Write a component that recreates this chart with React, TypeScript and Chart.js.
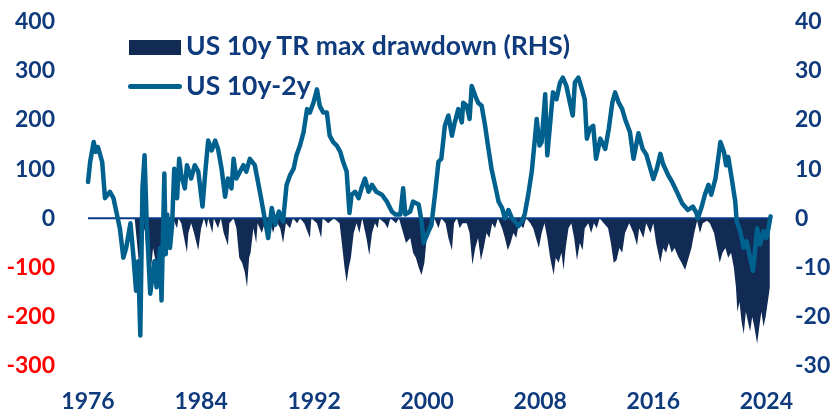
import React, { useEffect, useRef } from "react";
import { Chart, registerables } from "chart.js";

Chart.register(...registerables);

// US 10y-2y spread (bp, LHS)
const spreadYears = [
  1976.0, 1976.15, 1976.4, 1976.55, 1976.7, 1977.0, 1977.2, 1977.55, 1977.8, 1978.0,
  1978.25, 1978.5, 1978.7, 1979.0, 1979.2, 1979.4, 1979.55, 1979.7, 1979.85, 1980.0,
  1980.15, 1980.4, 1980.7, 1980.85, 1981.1, 1981.2, 1981.4, 1981.5, 1981.6, 1981.8,
  1981.95, 1982.1, 1982.3, 1982.45, 1982.6, 1982.85, 1983.0, 1983.3, 1983.55, 1983.8,
  1984.1, 1984.3, 1984.5, 1984.75, 1985.0, 1985.2, 1985.45, 1985.7, 1985.9, 1986.15,
  1986.3, 1986.5, 1986.75, 1987.0, 1987.2, 1987.45, 1987.8, 1988.2, 1988.5, 1988.75,
  1989.0, 1989.25, 1989.5, 1989.8, 1990.05, 1990.3, 1990.55, 1990.75, 1991.0, 1991.25,
  1991.5, 1991.7, 1991.95, 1992.2, 1992.4, 1992.65, 1992.9, 1993.1, 1993.35, 1993.6,
  1993.85, 1994.05, 1994.3, 1994.5, 1994.65, 1994.9, 1995.15, 1995.35, 1995.6, 1995.85,
  1996.1, 1996.4, 1996.8, 1997.15, 1997.5, 1997.75, 1998.1, 1998.3, 1998.45, 1998.8,
  1999.0, 1999.4, 1999.6, 1999.75, 2000.1, 2000.3, 2000.55, 2000.8, 2001.0, 2001.25,
  2001.5, 2001.75, 2001.95, 2002.2, 2002.45, 2002.55, 2002.8, 2003.0, 2003.15, 2003.4,
  2003.6, 2003.85, 2004.1, 2004.3, 2004.55, 2004.8, 2005.05, 2005.3, 2005.5, 2005.75,
  2006.0, 2006.2, 2006.45, 2006.7, 2006.9, 2007.15, 2007.4, 2007.6, 2007.75, 2007.95,
  2008.1, 2008.35, 2008.5, 2008.75, 2008.9, 2009.15, 2009.4, 2009.6, 2009.85, 2010.1,
  2010.3, 2010.45, 2010.7, 2010.95, 2011.15, 2011.3, 2011.5, 2011.75, 2011.95, 2012.25,
  2012.6, 2012.85, 2013.1, 2013.3, 2013.55, 2013.8, 2014.0, 2014.35, 2014.6, 2014.95,
  2015.25, 2015.5, 2015.7, 2016.0, 2016.25, 2016.5, 2016.7, 2017.05, 2017.35, 2017.7,
  2018.05, 2018.45, 2018.8, 2019.05, 2019.15, 2019.4, 2019.65, 2019.9, 2020.1, 2020.4,
  2020.75, 2021.0, 2021.15, 2021.3, 2021.55, 2021.8, 2021.9, 2022.15, 2022.4, 2022.6,
  2022.85, 2023.05, 2023.2, 2023.35, 2023.55, 2023.8, 2024.0, 2024.15, 2024.3,
];
const spreadValues = [
  74, 115, 155, 135, 145, 115, 41, 54, 41, 14,
  -20, -80, -60, -10, -73, -147, -87, -238, 61, 128,
  -6, -153, -87, -140, -60, -167, 91, -73, 8, -60,
  -13, 101, 41, 121, 88, 61, 108, 81, 108, 95,
  24, 95, 158, 138, 158, 141, 101, 44, 81, 61,
  121, 81, 95, 108, 95, 121, 108, 48, 0, -40,
  21, -13, 14, -6, 68, 88, 101, 128, 148, 175,
  222, 215, 235, 262, 228, 215, 215, 168, 155, 148,
  135, 115, 95, 11, 48, 54, 41, 61, 81, 54,
  68, 54, 48, 34, 14, 8, 8, 61, 8, 14,
  34, 28, -6, -50, -26, -13, 48, 115, 121, 188,
  209, 168, 195, 222, 195, 235, 229, 202, 269, 249,
  235, 229, 188, 148, 101, 68, 34, 21, 0, 17,
  0, -6, -16, -6, 8, 48, 95, 155, 202, 148,
  155, 252, 128, 209, 256, 242, 276, 286, 269, 235,
  209, 276, 286, 262, 242, 162, 182, 188, 121, 162,
  141, 182, 235, 256, 235, 222, 202, 175, 121, 173,
  141, 130, 110, 80, 101, 131, 110, 88, 73, 52,
  30, 17, 24, 11, 0, 21, 48, 68, 48, 81,
  155, 135, 108, 125, 81, 34, -6, -26, -60, -46,
  -80, -107, -66, -20, -53, -26, -40, -20, 4,
];

// US 10y total return max drawdown (%, RHS)
const drawdownYears = [
  1976.0, 1979.3, 1979.4, 1979.6, 1979.8, 1980.0, 1980.2, 1980.4, 1980.6, 1980.8,
  1981.0, 1981.2, 1981.4, 1981.6, 1981.8, 1982.0, 1982.3, 1982.4, 1982.6, 1982.8,
  1983.0, 1983.1, 1983.3, 1983.5, 1983.8, 1984.0, 1984.2, 1984.4, 1984.5, 1984.8,
  1984.9, 1985.2, 1985.4, 1985.6, 1985.9, 1986.0, 1986.3, 1986.5, 1986.7, 1986.9,
  1987.1, 1987.25, 1987.4, 1987.5, 1987.7, 1987.9, 1988.0, 1988.3, 1988.5, 1988.7,
  1988.9, 1989.1, 1989.3, 1989.6, 1989.8, 1990.0, 1990.3, 1990.5, 1990.8, 1991.0,
  1991.3, 1991.7, 1991.8, 1992.2, 1992.5, 1992.6, 1993.0, 1993.4, 1993.8, 1994.0,
  1994.15, 1994.3, 1994.45, 1994.6, 1994.8, 1995.0, 1995.2, 1995.4, 1995.7, 1995.9,
  1996.1, 1996.3, 1996.5, 1996.6, 1997.0, 1997.2, 1997.4, 1997.8, 1998.0, 1998.3,
  1998.5, 1998.8, 1999.0, 1999.2, 1999.4, 1999.6, 1999.8, 2000.0, 2000.2, 2000.4,
  2000.5, 2000.8, 2001.0, 2001.3, 2001.5, 2001.75, 2001.9, 2002.1, 2002.3, 2002.5,
  2002.8, 2003.0, 2003.2, 2003.4, 2003.6, 2003.8, 2004.0, 2004.2, 2004.4, 2004.6,
  2004.8, 2005.0, 2005.3, 2005.5, 2005.7, 2005.9, 2006.1, 2006.3, 2006.5, 2006.8,
  2007.0, 2007.3, 2007.5, 2007.7, 2007.9, 2008.1, 2008.3, 2008.5, 2008.7, 2008.95,
  2009.1, 2009.3, 2009.5, 2009.65, 2009.8, 2010.0, 2010.2, 2010.4, 2010.6, 2010.8,
  2011.0, 2011.15, 2011.4, 2011.6, 2011.8, 2012.0, 2012.2, 2012.5, 2012.8, 2013.0,
  2013.2, 2013.4, 2013.6, 2013.8, 2014.0, 2014.3, 2014.6, 2014.85, 2015.0, 2015.3,
  2015.5, 2015.8, 2016.0, 2016.2, 2016.5, 2016.7, 2016.9, 2017.1, 2017.3, 2017.5,
  2017.8, 2018.0, 2018.25, 2018.5, 2018.7, 2018.9, 2019.1, 2019.3, 2019.5, 2019.8,
  2020.0, 2020.3, 2020.5, 2020.7, 2020.9, 2021.1, 2021.3, 2021.5, 2021.7, 2021.85,
  2021.95, 2022.1, 2022.25, 2022.4, 2022.55, 2022.7, 2022.85, 2023.0, 2023.15, 2023.35,
  2023.5, 2023.65, 2023.8, 2023.95, 2024.1, 2024.25,
];
const drawdownValues = [
  0, 0, -3, -9, -5, -2, -8, -12, -6, -9,
  -11, -9, -3, -6, -2, 0, -2, 0, -1, -4,
  -7, -3, -1, -3, -6.5, -2, 0, -2, 0, -3,
  0, -2, 0, -3, -5.5, -1, 0, -2, -8, -9,
  -11, -14, -8, -7, -2, -5, -1, -3, -1, -4,
  -1, -3, -0.5, -2, -5, -1, -2, 0, -1, 0,
  -1, -4, 0, -1, -4, 0, -1, 0, -1, -6,
  -10, -13, -10, -8, -3, -1, -3, 0, -4, -7.5,
  -3, -1, -2, 0, -1, -2, 0, -1, 0, -3,
  -5, -4, -7, -8, -10, -11.5, -9, -3, -1, -2,
  0, -2, 0, -1, -4, -6.5, -1, 0, -2, -1,
  -1, -3, -9.5, -6, -4, -8.5, -6, -3, -4, -1,
  -2, 0, -2, -4, -6.5, -5, -3, -4, -1, -2,
  0, -1, -2, -4, -6, -3, -1, -4, -8, -11.5,
  -8, -9, -7, -10.5, -6, -2, -1, -4, -8.5, -5,
  -6.5, -2, -1, -3, -1, -2, 0, -1, -2, -5,
  -9, -8.5, -6, -7, -3, -1, -3, -5.5, -2, -4,
  -1, -3, -1, -5, -9, -6, -7, -5, -7, -6,
  -8, -9, -10.5, -8, -6, -3, -0.5, -3, -1, -0.5,
  -1, -3, -6, -9, -7, -6, -8, -7, -10, -14,
  -19, -17, -21, -23.5, -19, -21, -23, -20, -22, -25.5,
  -22, -19, -22, -20, -17, -14,
];

const xTickYears = [1976, 1984, 1992, 2000, 2008, 2016, 2024];
const zeroLineYears = [1976, 2024.3];

const NAVY = "#0f3b7d";
const RED = "#ff0000";
const LINE = "#00618f";
const AREA = "#122b55";
const FONT = "Lato";

export default function App() {
  const ref = useRef<HTMLCanvasElement | null>(null);

  useEffect(() => {
    if (!ref.current) return;
    const spread = spreadYears.map((x, i) => ({ x, y: spreadValues[i] }));
    const dd = drawdownYears.map((x, i) => ({ x, y: drawdownValues[i] }));
    const zero = zeroLineYears.map((x) => ({ x, y: 0 }));
    const tickFont = { family: FONT, size: 23, weight: "bold" as const };
    const yTickFont = { family: FONT, size: 23, weight: "bold" as const, lineHeight: 1.0 };

    const chart = new Chart(ref.current, {
      type: "line",
      data: {
        datasets: [
          {
            label: "US 10y-2y",
            data: spread,
            borderColor: LINE,
            borderWidth: 4.5,
            pointRadius: 0,
            tension: 0,
            fill: false,
            yAxisID: "y",
            borderJoinStyle: "round",
            borderCapStyle: "round",
          },
          {
            label: "zero",
            data: zero,
            borderColor: "#0a3c86",
            borderWidth: 2,
            pointRadius: 0,
            fill: false,
            yAxisID: "y",
          },
          {
            label: "US 10y TR max drawdown (RHS)",
            data: dd,
            borderWidth: 0,
            borderColor: "rgba(0,0,0,0)",
            backgroundColor: AREA,
            pointRadius: 0,
            tension: 0,
            fill: "origin",
            yAxisID: "y1",
          },
        ],
      },
      options: {
        animation: false,
        responsive: false,
        maintainAspectRatio: false,
        layout: { padding: { top: 0, bottom: 0, left: 0, right: 0 } },
        plugins: { legend: { display: false }, tooltip: { enabled: false } },
        scales: {
          x: {
            type: "linear",
            min: 1974.37,
            max: 2025.32,
            grid: { display: false, drawTicks: false },
            border: { display: false },
            afterBuildTicks: (scale: any) => {
              scale.ticks = xTickYears.map((v) => ({ value: v }));
            },
            afterFit: (scale: any) => {
              scale.height = 50;
            },
            ticks: {
              color: NAVY,
              font: tickFont,
              padding: 22,
              maxRotation: 0,
              autoSkip: false,
              callback: (v: any) => String(v),
            },
          },
          y: {
            position: "left",
            min: -300,
            max: 400,
            grid: { display: false, drawTicks: false },
            border: { display: false },
            afterFit: (scale: any) => {
              scale.width = 65;
            },
            ticks: {
              stepSize: 100,
              padding: 10,
              font: yTickFont,
              color: (ctx: any) => (ctx.tick && ctx.tick.value < 0 ? RED : NAVY),
            },
          },
          y1: {
            position: "right",
            min: -30,
            max: 40,
            grid: { display: false, drawTicks: false },
            border: { display: false },
            afterFit: (scale: any) => {
              scale.width = 52;
            },
            ticks: {
              stepSize: 10,
              padding: 10,
              font: yTickFont,
              color: NAVY,
            },
          },
        },
      },
    });
    return () => chart.destroy();
  }, []);

  const legendText: React.CSSProperties = {
    position: "absolute",
    left: 186,
    fontFamily: FONT,
    fontWeight: 700,
    fontSize: 26.5,
    color: NAVY,
    lineHeight: "26px",
    whiteSpace: "nowrap",
  };

  return (
    <div style={{ position: "absolute", left: 0, top: 0, width: 837, height: 416, background: "#fff" }}>
      <canvas ref={ref} width={837} height={416} style={{ display: "block" }} />
      <div style={{ position: "absolute", left: 129, top: 40, width: 52, height: 15, background: AREA }} />
      <div style={{ ...legendText, top: 32 }}>US 10y TR max drawdown (RHS)</div>
      <div
        style={{
          position: "absolute",
          left: 128,
          top: 84,
          width: 54,
          height: 5,
          borderRadius: 3,
          background: LINE,
        }}
      />
      <div style={{ ...legendText, top: 72 }}>US 10y-2y</div>
    </div>
  );
}
